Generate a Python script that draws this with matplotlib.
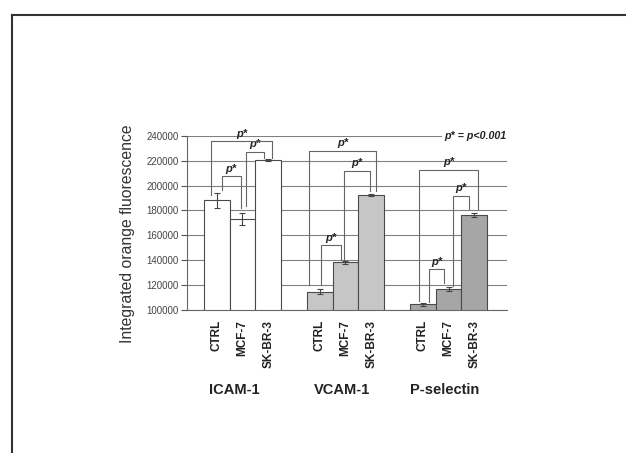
import numpy as np
import matplotlib.pyplot as plt
from matplotlib.lines import Line2D

plt.rcParams['font.family'] = ['Liberation Sans', 'DejaVu Sans']

# data
groups = ["ICAM-1", "VCAM-1", "P-selectin"]
cells = ["CTRL", "MCF-7", "SK-BR-3"]
icam_mean = [188000, 173000, 220500]
icam_err = [6000, 5000, 500]
vcam_mean = [114500, 138300, 192400]
vcam_err = [2000, 1000, 600]
psel_mean = [104600, 116900, 176300]
psel_err = [1000, 1500, 2000]
bar_colors = ["white", "#c6c6c6", "#a6a6a6"]

# significance brackets: (bar a, bar b, x offset a, x offset b, foot a, foot b, top)
icam_brackets = [(0, 1, 0.20, -0.07, 196400, 182000, 207600),
                 (1, 2, 0.13, -0.16, 183500, 222300, 227100),
                 (0, 2, -0.22, 0.14, 192400, 222300, 235700)]
vcam_brackets = [(0, 1, 0.04, -0.17, 120100, 140200, 152200),
                 (1, 2, -0.05, -0.05, 140200, 195600, 211900),
                 (0, 2, -0.40, 0.18, 120100, 195600, 227800)]
psel_brackets = [(0, 1, 0.25, -0.17, 106700, 121400, 132900),
                 (1, 2, 0.18, -0.21, 119500, 180900, 191600),
                 (0, 2, -0.14, 0.15, 107000, 180900, 212500)]

means = [icam_mean, vcam_mean, psel_mean]
errs = [icam_err, vcam_err, psel_err]
brackets = [icam_brackets, vcam_brackets, psel_brackets]
group_label_shift = [-0.33, -0.14, -0.14]

fig = plt.figure(figsize=(6.26, 4.53), dpi=100)
ax = fig.add_axes([187 / 626, 1 - 310 / 453, 320 / 626, 174.3 / 453])

grey = "#555555"
for g in range(3):
    x = 4 * g + np.arange(3)
    ax.bar(x, means[g], width=1.0, bottom=0, color=bar_colors[g],
           edgecolor="#4a4a4a", linewidth=0.8, zorder=2)
    ax.errorbar(x, means[g], yerr=errs[g], fmt="none", ecolor="#444444",
                elinewidth=0.8, capsize=2.5, capthick=0.8, zorder=3)
    for a, b, oa, ob, fa, fb, top in brackets[g]:
        xa = 4 * g + a + oa
        xb = 4 * g + b + ob
        ax.plot([xa, xa, xb, xb], [fa, top, top, fb], color="#666666",
                lw=0.8, zorder=4)
        ax.text((xa + xb) / 2, top + 6000, "p*", ha="center", va="center",
                fontsize=8, fontweight="bold", style="italic", color="#222222")
    ax.text(4 * g + 1 + group_label_shift[g], -0.46, groups[g],
            transform=ax.get_xaxis_transform(), ha="center", va="center",
            fontsize=10.5, fontweight="bold", color="#222222")

ax.text(11.25, 240000, "p* = p<0.001", ha="right", va="center", fontsize=7.7,
        fontweight="bold", style="italic", color="#222222",
        bbox=dict(facecolor="white", edgecolor="none", pad=1.5), zorder=5)

ax.set_xlim(-1.15, 11.27)
ax.set_ylim(100000, 240000)
ax.set_yticks(np.arange(100000, 240001, 20000))
ax.set_yticklabels([str(v) for v in range(100000, 240001, 20000)])
ax.yaxis.grid(True, color="#808080", linewidth=0.8, zorder=0)
ax.set_axisbelow(True)

xt = [4 * g + i for g in range(3) for i in range(3)]
ax.set_xticks(xt)
ax.set_xticklabels(cells * 3, rotation=90, fontsize=8.5, fontweight="bold",
                   color="#222222", va="top")
ax.tick_params(axis="x", length=0, pad=7)
ax.tick_params(axis="y", length=4, width=0.8, color=grey, labelsize=7,
               labelcolor="#444444", pad=2)

for s in ["top", "right"]:
    ax.spines[s].set_visible(False)
for s in ["left", "bottom"]:
    ax.spines[s].set_color("#666666")
    ax.spines[s].set_linewidth(0.8)

ax.set_ylabel("Integrated orange fluorescence", fontsize=11.3, color="#333333")
ax.yaxis.set_label_coords(-0.1625, 0.44)

# page frame
fig.add_artist(Line2D([12 / 626, 12 / 626], [0, 1 - 15 / 453], color="#333333", lw=1.5))
fig.add_artist(Line2D([12 / 626, 1], [1 - 15 / 453, 1 - 15 / 453], color="#333333", lw=1.5))

fig.savefig("out.png", dpi=100)
